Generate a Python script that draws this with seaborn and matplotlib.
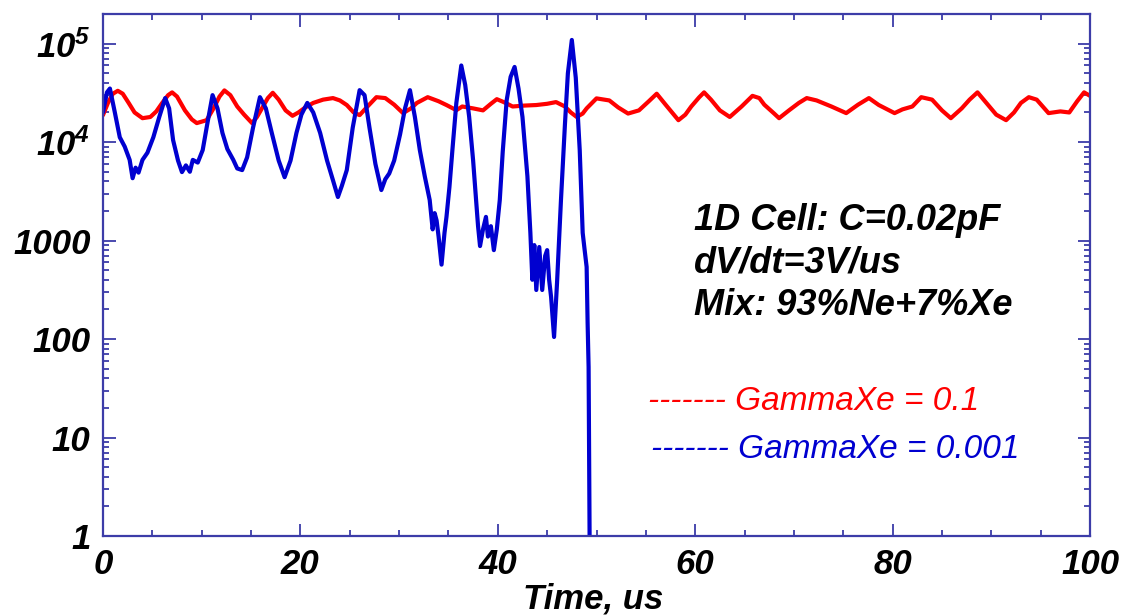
import matplotlib
matplotlib.use("Agg")
import matplotlib.pyplot as plt
import seaborn as sns
import pandas as pd
from matplotlib.ticker import LogLocator, MultipleLocator, NullFormatter

# ---------------- data ----------------
red_label = "GammaXe = 0.1"
blue_label = "GammaXe = 0.001"

red_t = [0, 0.5, 1.0, 1.5, 2.0, 2.6, 3.2, 4.0, 4.8, 5.4,
         6.0, 6.6, 7.0, 7.5, 8.3, 9.0, 9.5, 10.5, 11.2, 11.8,
         12.3, 12.9, 13.6, 14.3, 15.1, 15.6, 16.1, 16.7, 17.2, 17.8,
         18.5, 19.2, 19.8, 20.5, 21.3, 22.3, 23.3, 24.0, 24.7, 25.4,
         26.0, 26.8, 27.7, 28.6, 29.5, 30.4, 31.2, 31.8, 32.9, 34.0,
         34.8, 35.8, 36.4, 37.5, 38.5, 39.3, 39.9, 40.6, 41.5, 42.7,
         43.9, 45.0, 45.9, 46.8, 47.4, 48.0, 48.6, 49.0, 50.0, 51.3,
         52.2, 53.2, 54.3, 55.3, 56.1, 57.0, 58.3, 59.0, 59.6, 60.4,
         60.9, 61.6, 62.5, 63.5, 64.7, 65.8, 66.5, 67.0, 68.0, 68.5,
         69.5, 70.5, 71.3, 72.3, 73.8, 75.3, 76.5, 77.6, 78.6, 80.2,
         81.0, 82.0, 82.9, 84.0, 85.0, 85.9, 87.0, 87.8, 88.6, 89.5,
         90.5, 91.5, 92.3, 93.0, 93.8, 94.6, 95.8, 97.0, 97.9, 98.7,
         99.4, 100]
red_v = [18.8e3, 25e3, 31e3, 33.2e3, 31e3, 25e3, 20e3, 17.5e3, 18e3, 20.5e3,
         25e3, 30e3, 32e3, 29e3, 21e3, 17e3, 15.6e3, 16.7e3, 22e3, 29e3,
         33.5e3, 30e3, 23e3, 19e3, 15.6e3, 18e3, 22e3, 28e3, 31.7e3, 27e3,
         21e3, 18.5e3, 20e3, 22.5e3, 25e3, 27e3, 28e3, 26.5e3, 23.8e3, 20e3,
         18.8e3, 23e3, 28.6e3, 28e3, 24e3, 19.7e3, 22e3, 25e3, 28.6e3, 26e3,
         23.8e3, 21.1e3, 23e3, 22e3, 21e3, 24.5e3, 27.3e3, 25.5e3, 23e3, 23.5e3,
         23.8e3, 24.5e3, 25.5e3, 23e3, 20e3, 18e3, 19.5e3, 22e3, 27.8e3, 26.5e3,
         22.5e3, 19.5e3, 21e3, 26e3, 31e3, 24e3, 16.7e3, 19e3, 23e3, 28.5e3,
         32e3, 27e3, 21e3, 18e3, 23e3, 29.5e3, 28e3, 24e3, 19.5e3, 17.5e3,
         21e3, 25e3, 28e3, 26.5e3, 23e3, 19.7e3, 24e3, 28e3, 23.8e3, 19.7e3,
         21.5e3, 23e3, 28.6e3, 27e3, 21e3, 17.5e3, 22e3, 27e3, 32e3, 25e3,
         19e3, 16.7e3, 20e3, 25e3, 28.6e3, 27e3, 19.7e3, 20.5e3, 20e3, 26e3,
         32e3, 29.5e3]

blue_t = [0, 0.4, 0.7, 1.2, 1.7, 2.2, 2.7, 3.0, 3.3, 3.6,
          4.0, 4.5, 5.1, 5.7, 6.3, 6.7, 7.1, 7.6, 8.0, 8.4,
          8.8, 9.1, 9.6, 10.1, 10.6, 11.1, 11.6, 12.1, 12.6, 13.2,
          13.6, 14.1, 14.6, 15.2, 15.9, 16.5, 17.1, 17.8, 18.4, 19.0,
          19.6, 20.1, 20.7, 21.3, 22.0, 22.7, 23.3, 23.8, 24.2, 24.7,
          25.3, 26.0, 26.5, 27.0, 27.6, 28.2, 28.6, 29.0, 29.5, 30.1,
          30.6, 31.1, 31.6, 32.1, 32.6, 33.1, 33.4, 33.6, 33.8, 34.0,
          34.3, 34.6, 34.8, 35.1, 35.4, 35.8, 36.3, 36.7, 37.1, 37.5,
          37.8, 38.0, 38.2, 38.5, 38.8, 39.0, 39.3, 39.6, 39.9, 40.2,
          40.5, 40.9, 41.3, 41.7, 42.1, 42.5, 43.0, 43.3, 43.5, 43.7,
          43.9, 44.2, 44.5, 44.8, 45.0, 45.2, 45.4, 45.7, 46.0, 46.4,
          46.8, 47.1, 47.5, 47.9, 48.3, 48.6, 48.8, 49.0, 49.1, 49.2,
          49.3, 49.35]
blue_v = [2.0e4, 3.2e4, 3.5e4, 2.0e4, 1.12e4, 9.0e3, 6.6e3, 4.3e3, 5.5e3, 4.9e3,
          6.6e3, 7.8e3, 1.12e4, 1.8e4, 2.8e4, 2.2e4, 1.05e4, 6.5e3, 4.96e3, 5.8e3,
          5.0e3, 6.6e3, 6.2e3, 8.3e3, 1.6e4, 3.0e4, 2.2e4, 1.24e4, 8.5e3, 6.6e3,
          5.4e3, 5.2e3, 7.0e3, 1.4e4, 2.86e4, 2.2e4, 1.24e4, 6.5e3, 4.4e3, 6.5e3,
          1.24e4, 1.9e4, 2.5e4, 2.0e4, 1.24e4, 6.5e3, 4.1e3, 2.77e3, 3.6e3, 5.2e3,
          1.4e4, 3.37e4, 3.0e4, 1.4e4, 6.0e3, 3.26e3, 4.2e3, 4.8e3, 6.5e3, 1.2e4,
          2.2e4, 3.37e4, 1.8e4, 8.3e3, 4.5e3, 2.58e3, 1.3e3, 1.9e3, 1.6e3, 1.1e3,
          570, 1.2e3, 1.74e3, 3.5e3, 8.3e3, 2.5e4, 6.0e4, 3.8e4, 1.8e4, 6.5e3,
          2.58e3, 1.4e3, 880, 1.3e3, 1.74e3, 1.1e3, 1.4e3, 800, 1.3e3, 2.58e3,
          8.0e3, 2.67e4, 4.6e4, 5.8e4, 3.5e4, 1.8e4, 4.5e3, 1.2e3, 400, 900,
          315, 860, 315, 700, 800, 400, 267, 105, 370, 2.58e3,
          1.5e4, 5.0e4, 1.09e5, 4.5e4, 8.3e3, 1.2e3, 800, 540, 145, 52,
          1.0, 0.3]

x_ticks = [0, 20, 40, 60, 80, 100]
x_tick_labels = ["0", "20", "40", "60", "80", "100"]
y_ticks = [1, 10, 100, 1000, 1e4, 1e5]
y_tick_labels = ["1", "10", "100", "1000", r"$10^{4}$", r"$10^{5}$"]

info_lines = ["1D Cell: C=0.02pF", "dV/dt=3V/us", "Mix: 93%Ne+7%Xe"]

# ---------------- style ----------------
sns.set_style("white")
plt.rcParams["font.family"] = ["Liberation Sans", "DejaVu Sans"]
plt.rcParams["mathtext.fontset"] = "custom"
plt.rcParams["mathtext.rm"] = "Liberation Sans:bold:italic"
plt.rcParams["mathtext.it"] = "Liberation Sans:bold:italic"
plt.rcParams["mathtext.bf"] = "Liberation Sans:bold:italic"

frame = "#3c3ca8"
red = "#ff0000"
blue = "#0000d0"

df = pd.concat([
    pd.DataFrame({"t": red_t, "v": red_v, "series": red_label}),
    pd.DataFrame({"t": blue_t, "v": blue_v, "series": blue_label}),
], ignore_index=True)

fig = plt.figure(figsize=(11.26, 6.16), dpi=100)
ax = fig.add_axes([103 / 1126, 80 / 616, 987 / 1126, 522 / 616])

sns.lineplot(data=df, x="t", y="v", hue="series",
             hue_order=[red_label, blue_label],
             palette={red_label: red, blue_label: blue},
             estimator=None, sort=False, legend=False,
             linewidth=3.0, ax=ax)

ax.set_yscale("log")
ax.set_xlim(0, 100)
ax.set_ylim(1, 2e5)

tick_font = dict(fontsize=25, fontweight="bold", fontstyle="italic", color="black")
ax.set_xticks(x_ticks, x_tick_labels, **tick_font)
ax.set_yticks(y_ticks, y_tick_labels, **tick_font)
ax.xaxis.set_minor_locator(MultipleLocator(5))
ax.yaxis.set_minor_locator(LogLocator(base=10, subs=range(2, 10), numticks=20))
ax.yaxis.set_minor_formatter(NullFormatter())

ax.tick_params(which="both", direction="in", bottom=True, left=True,
               top=True, right=True, color=frame)
ax.tick_params(which="major", length=9, width=1.3)
ax.tick_params(which="minor", length=4.5, width=1.3)
ax.tick_params(axis="x", which="major", pad=9)
ax.tick_params(axis="y", which="major", pad=9)

for s in ax.spines.values():
    s.set_color(frame)
    s.set_linewidth(1.6)
    s.set_visible(True)

ax.set_ylabel("")
ax.set_xlabel("Time, us", fontsize=25, fontweight="bold", fontstyle="italic",
              color="black")
ax.xaxis.set_label_coords(0.4965, -0.138)
ax.xaxis.label.set_va("baseline")

for line, y in zip(info_lines, [0.586, 0.504, 0.423]):
    ax.text(0.599, y, line, transform=ax.transAxes, fontsize=26, color="black",
            fontweight="bold", fontstyle="italic", va="baseline", ha="left")

ax.text(0.552, 0.241, "------- " + red_label, transform=ax.transAxes,
        fontsize=24, fontstyle="italic", color=red, va="baseline", ha="left")
ax.text(0.555, 0.149, "------- " + blue_label, transform=ax.transAxes,
        fontsize=24, fontstyle="italic", color=blue, va="baseline", ha="left")

fig.savefig("out.png", dpi=100)
